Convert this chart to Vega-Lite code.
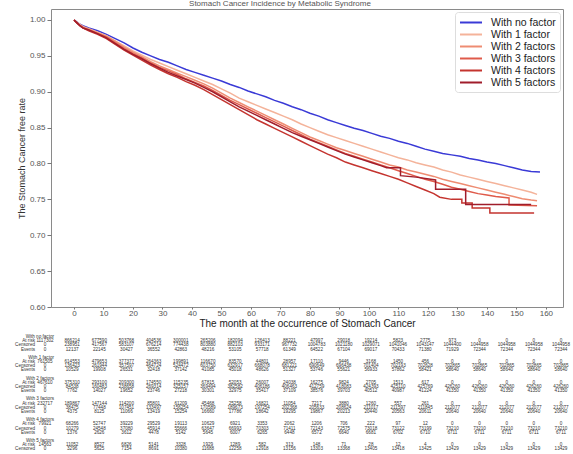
{
  "$schema": "https://vega.github.io/schema/vega-lite/v6.json",
  "padding": {"left": 15, "top": -1, "right": 5, "bottom": 0},
  "background": "white",
  "title": {"text": "Stomach Cancer Incidence by Metabolic Syndrome", "fontSize": 8, "fontWeight": "normal", "color": "#555", "anchor": "middle", "frame": "group", "offset": 1, "dx": -27},
  "config": {"view": {"stroke": null}, "font": "Liberation Sans"},
  "bounds": "flush",
  "spacing": 26,
  "datasets": {
    "km": [
      {"factor":"With no factor","month":0,"rate":1.000},{"factor":"With no factor","month":1,"rate":0.997},{"factor":"With no factor","month":2,"rate":0.994},{"factor":"With no factor","month":3,"rate":0.992},{"factor":"With no factor","month":5,"rate":0.989},{"factor":"With no factor","month":8,"rate":0.985},{"factor":"With no factor","month":11,"rate":0.980},{"factor":"With no factor","month":14,"rate":0.974},{"factor":"With no factor","month":17,"rate":0.968},{"factor":"With no factor","month":20,"rate":0.961},{"factor":"With no factor","month":23,"rate":0.955},{"factor":"With no factor","month":26,"rate":0.950},{"factor":"With no factor","month":29,"rate":0.945},{"factor":"With no factor","month":32,"rate":0.941},{"factor":"With no factor","month":35,"rate":0.936},{"factor":"With no factor","month":38,"rate":0.931},{"factor":"With no factor","month":41,"rate":0.927},{"factor":"With no factor","month":44,"rate":0.923},{"factor":"With no factor","month":47,"rate":0.919},{"factor":"With no factor","month":50,"rate":0.915},{"factor":"With no factor","month":53,"rate":0.910},{"factor":"With no factor","month":56,"rate":0.906},{"factor":"With no factor","month":59,"rate":0.901},{"factor":"With no factor","month":62,"rate":0.897},{"factor":"With no factor","month":65,"rate":0.893},{"factor":"With no factor","month":68,"rate":0.888},{"factor":"With no factor","month":71,"rate":0.884},{"factor":"With no factor","month":74,"rate":0.879},{"factor":"With no factor","month":77,"rate":0.875},{"factor":"With no factor","month":80,"rate":0.870},{"factor":"With no factor","month":83,"rate":0.866},{"factor":"With no factor","month":86,"rate":0.861},{"factor":"With no factor","month":89,"rate":0.857},{"factor":"With no factor","month":92,"rate":0.853},{"factor":"With no factor","month":95,"rate":0.849},{"factor":"With no factor","month":98,"rate":0.846},{"factor":"With no factor","month":101,"rate":0.842},{"factor":"With no factor","month":104,"rate":0.838},{"factor":"With no factor","month":107,"rate":0.835},{"factor":"With no factor","month":110,"rate":0.831},{"factor":"With no factor","month":113,"rate":0.828},{"factor":"With no factor","month":116,"rate":0.824},{"factor":"With no factor","month":119,"rate":0.820},{"factor":"With no factor","month":122,"rate":0.817},{"factor":"With no factor","month":125,"rate":0.814},{"factor":"With no factor","month":128,"rate":0.812},{"factor":"With no factor","month":131,"rate":0.810},{"factor":"With no factor","month":134,"rate":0.807},{"factor":"With no factor","month":137,"rate":0.805},{"factor":"With no factor","month":140,"rate":0.802},{"factor":"With no factor","month":143,"rate":0.800},{"factor":"With no factor","month":146,"rate":0.797},{"factor":"With no factor","month":149,"rate":0.794},{"factor":"With no factor","month":152,"rate":0.791},{"factor":"With no factor","month":155,"rate":0.789},{"factor":"With no factor","month":158,"rate":0.788},

      {"factor":"With 1 factor","month":0,"rate":1.000},{"factor":"With 1 factor","month":1,"rate":0.997},{"factor":"With 1 factor","month":2,"rate":0.994},{"factor":"With 1 factor","month":3,"rate":0.991},{"factor":"With 1 factor","month":5,"rate":0.988},{"factor":"With 1 factor","month":8,"rate":0.983},{"factor":"With 1 factor","month":11,"rate":0.978},{"factor":"With 1 factor","month":14,"rate":0.971},{"factor":"With 1 factor","month":17,"rate":0.964},{"factor":"With 1 factor","month":20,"rate":0.957},{"factor":"With 1 factor","month":23,"rate":0.951},{"factor":"With 1 factor","month":26,"rate":0.945},{"factor":"With 1 factor","month":29,"rate":0.940},{"factor":"With 1 factor","month":32,"rate":0.935},{"factor":"With 1 factor","month":35,"rate":0.930},{"factor":"With 1 factor","month":38,"rate":0.925},{"factor":"With 1 factor","month":41,"rate":0.920},{"factor":"With 1 factor","month":44,"rate":0.915},{"factor":"With 1 factor","month":47,"rate":0.910},{"factor":"With 1 factor","month":50,"rate":0.904},{"factor":"With 1 factor","month":53,"rate":0.898},{"factor":"With 1 factor","month":56,"rate":0.891},{"factor":"With 1 factor","month":59,"rate":0.886},{"factor":"With 1 factor","month":62,"rate":0.881},{"factor":"With 1 factor","month":65,"rate":0.876},{"factor":"With 1 factor","month":68,"rate":0.871},{"factor":"With 1 factor","month":71,"rate":0.866},{"factor":"With 1 factor","month":74,"rate":0.861},{"factor":"With 1 factor","month":77,"rate":0.855},{"factor":"With 1 factor","month":80,"rate":0.850},{"factor":"With 1 factor","month":83,"rate":0.845},{"factor":"With 1 factor","month":86,"rate":0.840},{"factor":"With 1 factor","month":89,"rate":0.836},{"factor":"With 1 factor","month":92,"rate":0.832},{"factor":"With 1 factor","month":95,"rate":0.828},{"factor":"With 1 factor","month":98,"rate":0.824},{"factor":"With 1 factor","month":101,"rate":0.820},{"factor":"With 1 factor","month":104,"rate":0.816},{"factor":"With 1 factor","month":107,"rate":0.812},{"factor":"With 1 factor","month":110,"rate":0.808},{"factor":"With 1 factor","month":113,"rate":0.805},{"factor":"With 1 factor","month":116,"rate":0.801},{"factor":"With 1 factor","month":119,"rate":0.798},{"factor":"With 1 factor","month":122,"rate":0.795},{"factor":"With 1 factor","month":125,"rate":0.791},{"factor":"With 1 factor","month":128,"rate":0.788},{"factor":"With 1 factor","month":131,"rate":0.784},{"factor":"With 1 factor","month":134,"rate":0.781},{"factor":"With 1 factor","month":137,"rate":0.778},{"factor":"With 1 factor","month":140,"rate":0.775},{"factor":"With 1 factor","month":143,"rate":0.772},{"factor":"With 1 factor","month":146,"rate":0.769},{"factor":"With 1 factor","month":149,"rate":0.766},{"factor":"With 1 factor","month":152,"rate":0.763},{"factor":"With 1 factor","month":155,"rate":0.760},{"factor":"With 1 factor","month":157,"rate":0.757},

      {"factor":"With 2 factors","month":0,"rate":1.000},{"factor":"With 2 factors","month":1,"rate":0.996},{"factor":"With 2 factors","month":2,"rate":0.993},{"factor":"With 2 factors","month":3,"rate":0.990},{"factor":"With 2 factors","month":5,"rate":0.987},{"factor":"With 2 factors","month":8,"rate":0.982},{"factor":"With 2 factors","month":11,"rate":0.977},{"factor":"With 2 factors","month":14,"rate":0.970},{"factor":"With 2 factors","month":17,"rate":0.962},{"factor":"With 2 factors","month":20,"rate":0.955},{"factor":"With 2 factors","month":23,"rate":0.949},{"factor":"With 2 factors","month":26,"rate":0.942},{"factor":"With 2 factors","month":29,"rate":0.936},{"factor":"With 2 factors","month":32,"rate":0.931},{"factor":"With 2 factors","month":35,"rate":0.926},{"factor":"With 2 factors","month":38,"rate":0.921},{"factor":"With 2 factors","month":41,"rate":0.916},{"factor":"With 2 factors","month":44,"rate":0.911},{"factor":"With 2 factors","month":47,"rate":0.905},{"factor":"With 2 factors","month":50,"rate":0.898},{"factor":"With 2 factors","month":53,"rate":0.891},{"factor":"With 2 factors","month":56,"rate":0.885},{"factor":"With 2 factors","month":59,"rate":0.879},{"factor":"With 2 factors","month":62,"rate":0.873},{"factor":"With 2 factors","month":65,"rate":0.867},{"factor":"With 2 factors","month":68,"rate":0.861},{"factor":"With 2 factors","month":71,"rate":0.855},{"factor":"With 2 factors","month":74,"rate":0.849},{"factor":"With 2 factors","month":77,"rate":0.843},{"factor":"With 2 factors","month":80,"rate":0.837},{"factor":"With 2 factors","month":83,"rate":0.832},{"factor":"With 2 factors","month":86,"rate":0.827},{"factor":"With 2 factors","month":89,"rate":0.822},{"factor":"With 2 factors","month":92,"rate":0.818},{"factor":"With 2 factors","month":95,"rate":0.814},{"factor":"With 2 factors","month":98,"rate":0.810},{"factor":"With 2 factors","month":101,"rate":0.806},{"factor":"With 2 factors","month":104,"rate":0.802},{"factor":"With 2 factors","month":107,"rate":0.798},{"factor":"With 2 factors","month":110,"rate":0.795},{"factor":"With 2 factors","month":113,"rate":0.791},{"factor":"With 2 factors","month":116,"rate":0.788},{"factor":"With 2 factors","month":119,"rate":0.785},{"factor":"With 2 factors","month":122,"rate":0.782},{"factor":"With 2 factors","month":125,"rate":0.778},{"factor":"With 2 factors","month":128,"rate":0.775},{"factor":"With 2 factors","month":131,"rate":0.772},{"factor":"With 2 factors","month":134,"rate":0.769},{"factor":"With 2 factors","month":137,"rate":0.766},{"factor":"With 2 factors","month":140,"rate":0.763},{"factor":"With 2 factors","month":143,"rate":0.760},{"factor":"With 2 factors","month":146,"rate":0.757},{"factor":"With 2 factors","month":149,"rate":0.754},{"factor":"With 2 factors","month":152,"rate":0.751},{"factor":"With 2 factors","month":155,"rate":0.749},{"factor":"With 2 factors","month":157,"rate":0.748},

      {"factor":"With 3 factors","month":0,"rate":1.000},{"factor":"With 3 factors","month":1,"rate":0.996},{"factor":"With 3 factors","month":2,"rate":0.992},{"factor":"With 3 factors","month":3,"rate":0.989},{"factor":"With 3 factors","month":5,"rate":0.986},{"factor":"With 3 factors","month":8,"rate":0.981},{"factor":"With 3 factors","month":11,"rate":0.976},{"factor":"With 3 factors","month":14,"rate":0.968},{"factor":"With 3 factors","month":17,"rate":0.960},{"factor":"With 3 factors","month":20,"rate":0.953},{"factor":"With 3 factors","month":23,"rate":0.947},{"factor":"With 3 factors","month":26,"rate":0.940},{"factor":"With 3 factors","month":29,"rate":0.934},{"factor":"With 3 factors","month":32,"rate":0.929},{"factor":"With 3 factors","month":35,"rate":0.924},{"factor":"With 3 factors","month":38,"rate":0.918},{"factor":"With 3 factors","month":41,"rate":0.913},{"factor":"With 3 factors","month":44,"rate":0.908},{"factor":"With 3 factors","month":47,"rate":0.902},{"factor":"With 3 factors","month":50,"rate":0.895},{"factor":"With 3 factors","month":53,"rate":0.888},{"factor":"With 3 factors","month":56,"rate":0.882},{"factor":"With 3 factors","month":59,"rate":0.876},{"factor":"With 3 factors","month":62,"rate":0.870},{"factor":"With 3 factors","month":65,"rate":0.864},{"factor":"With 3 factors","month":68,"rate":0.858},{"factor":"With 3 factors","month":71,"rate":0.852},{"factor":"With 3 factors","month":74,"rate":0.846},{"factor":"With 3 factors","month":77,"rate":0.840},{"factor":"With 3 factors","month":80,"rate":0.834},{"factor":"With 3 factors","month":83,"rate":0.829},{"factor":"With 3 factors","month":86,"rate":0.824},{"factor":"With 3 factors","month":89,"rate":0.819},{"factor":"With 3 factors","month":92,"rate":0.814},{"factor":"With 3 factors","month":95,"rate":0.810},{"factor":"With 3 factors","month":98,"rate":0.806},{"factor":"With 3 factors","month":101,"rate":0.802},{"factor":"With 3 factors","month":104,"rate":0.798},{"factor":"With 3 factors","month":107,"rate":0.794},{"factor":"With 3 factors","month":110,"rate":0.790},{"factor":"With 3 factors","month":113,"rate":0.786},{"factor":"With 3 factors","month":116,"rate":0.782},{"factor":"With 3 factors","month":119,"rate":0.778},{"factor":"With 3 factors","month":122,"rate":0.775},{"factor":"With 3 factors","month":125,"rate":0.771},{"factor":"With 3 factors","month":128,"rate":0.767},{"factor":"With 3 factors","month":131,"rate":0.764},{"factor":"With 3 factors","month":134,"rate":0.761},{"factor":"With 3 factors","month":137,"rate":0.758},{"factor":"With 3 factors","month":140,"rate":0.756},{"factor":"With 3 factors","month":143,"rate":0.754},{"factor":"With 3 factors","month":147.5,"rate":0.752},{"factor":"With 3 factors","month":147.5,"rate":0.742},{"factor":"With 3 factors","month":157,"rate":0.741},

      {"factor":"With 4 factors","month":0,"rate":1.000},{"factor":"With 4 factors","month":1,"rate":0.996},{"factor":"With 4 factors","month":2,"rate":0.992},{"factor":"With 4 factors","month":3,"rate":0.989},{"factor":"With 4 factors","month":5,"rate":0.985},{"factor":"With 4 factors","month":8,"rate":0.980},{"factor":"With 4 factors","month":11,"rate":0.974},{"factor":"With 4 factors","month":14,"rate":0.966},{"factor":"With 4 factors","month":17,"rate":0.958},{"factor":"With 4 factors","month":20,"rate":0.951},{"factor":"With 4 factors","month":23,"rate":0.944},{"factor":"With 4 factors","month":26,"rate":0.937},{"factor":"With 4 factors","month":29,"rate":0.931},{"factor":"With 4 factors","month":32,"rate":0.925},{"factor":"With 4 factors","month":35,"rate":0.920},{"factor":"With 4 factors","month":38,"rate":0.914},{"factor":"With 4 factors","month":41,"rate":0.909},{"factor":"With 4 factors","month":44,"rate":0.903},{"factor":"With 4 factors","month":47,"rate":0.896},{"factor":"With 4 factors","month":50,"rate":0.889},{"factor":"With 4 factors","month":53,"rate":0.882},{"factor":"With 4 factors","month":56,"rate":0.875},{"factor":"With 4 factors","month":59,"rate":0.868},{"factor":"With 4 factors","month":62,"rate":0.861},{"factor":"With 4 factors","month":65,"rate":0.855},{"factor":"With 4 factors","month":68,"rate":0.849},{"factor":"With 4 factors","month":71,"rate":0.843},{"factor":"With 4 factors","month":74,"rate":0.837},{"factor":"With 4 factors","month":77,"rate":0.831},{"factor":"With 4 factors","month":80,"rate":0.825},{"factor":"With 4 factors","month":83,"rate":0.819},{"factor":"With 4 factors","month":86,"rate":0.813},{"factor":"With 4 factors","month":89,"rate":0.808},{"factor":"With 4 factors","month":92,"rate":0.802},{"factor":"With 4 factors","month":95,"rate":0.798},{"factor":"With 4 factors","month":98,"rate":0.794},{"factor":"With 4 factors","month":101,"rate":0.790},{"factor":"With 4 factors","month":104,"rate":0.786},{"factor":"With 4 factors","month":107,"rate":0.782},{"factor":"With 4 factors","month":110,"rate":0.778},{"factor":"With 4 factors","month":113,"rate":0.773},{"factor":"With 4 factors","month":116,"rate":0.768},{"factor":"With 4 factors","month":119,"rate":0.763},{"factor":"With 4 factors","month":122,"rate":0.758},{"factor":"With 4 factors","month":124,"rate":0.753},{"factor":"With 4 factors","month":128,"rate":0.750},{"factor":"With 4 factors","month":131.5,"rate":0.750},{"factor":"With 4 factors","month":131.5,"rate":0.745},{"factor":"With 4 factors","month":135,"rate":0.745},{"factor":"With 4 factors","month":135,"rate":0.738},{"factor":"With 4 factors","month":141,"rate":0.738},{"factor":"With 4 factors","month":141,"rate":0.731},{"factor":"With 4 factors","month":156,"rate":0.731},

      {"factor":"With 5 factors","month":0,"rate":1.000},{"factor":"With 5 factors","month":1,"rate":0.996},{"factor":"With 5 factors","month":2,"rate":0.992},{"factor":"With 5 factors","month":3,"rate":0.989},{"factor":"With 5 factors","month":5,"rate":0.986},{"factor":"With 5 factors","month":8,"rate":0.981},{"factor":"With 5 factors","month":11,"rate":0.975},{"factor":"With 5 factors","month":14,"rate":0.967},{"factor":"With 5 factors","month":17,"rate":0.959},{"factor":"With 5 factors","month":20,"rate":0.952},{"factor":"With 5 factors","month":23,"rate":0.946},{"factor":"With 5 factors","month":26,"rate":0.939},{"factor":"With 5 factors","month":29,"rate":0.933},{"factor":"With 5 factors","month":32,"rate":0.927},{"factor":"With 5 factors","month":35,"rate":0.922},{"factor":"With 5 factors","month":38,"rate":0.917},{"factor":"With 5 factors","month":41,"rate":0.912},{"factor":"With 5 factors","month":44,"rate":0.906},{"factor":"With 5 factors","month":47,"rate":0.900},{"factor":"With 5 factors","month":50,"rate":0.893},{"factor":"With 5 factors","month":53,"rate":0.886},{"factor":"With 5 factors","month":56,"rate":0.879},{"factor":"With 5 factors","month":59,"rate":0.873},{"factor":"With 5 factors","month":62,"rate":0.867},{"factor":"With 5 factors","month":65,"rate":0.861},{"factor":"With 5 factors","month":68,"rate":0.855},{"factor":"With 5 factors","month":71,"rate":0.849},{"factor":"With 5 factors","month":74,"rate":0.843},{"factor":"With 5 factors","month":77,"rate":0.838},{"factor":"With 5 factors","month":80,"rate":0.833},{"factor":"With 5 factors","month":83,"rate":0.828},{"factor":"With 5 factors","month":86,"rate":0.823},{"factor":"With 5 factors","month":89,"rate":0.818},{"factor":"With 5 factors","month":92,"rate":0.813},{"factor":"With 5 factors","month":95,"rate":0.809},{"factor":"With 5 factors","month":98,"rate":0.805},{"factor":"With 5 factors","month":101,"rate":0.801},{"factor":"With 5 factors","month":104,"rate":0.797},{"factor":"With 5 factors","month":106,"rate":0.794},{"factor":"With 5 factors","month":110.7,"rate":0.794},{"factor":"With 5 factors","month":110.7,"rate":0.783},{"factor":"With 5 factors","month":116,"rate":0.781},{"factor":"With 5 factors","month":122.6,"rate":0.777},{"factor":"With 5 factors","month":122.6,"rate":0.764},{"factor":"With 5 factors","month":132.8,"rate":0.764},{"factor":"With 5 factors","month":132.8,"rate":0.743},{"factor":"With 5 factors","month":155,"rate":0.743}
    ],
    "hdr": [
      {"g":"With no factor","line":"1h"},{"g":"With 1 factor","line":"2h"},{"g":"With 2 factors","line":"3h"},
      {"g":"With 3 factors","line":"4h"},{"g":"With 4 factors","line":"5h"},{"g":"With 5 factors","line":"6h"}
    ],
    "risk": [
      {"g":"With no factor","r":"At risk","line":"1a","c01":"1117302","c02":"866214","c03":"677590","c04":"503768","c05":"404536","c06":"300001","c07":"265206","c08":"182094","c09":"126413","c10":"88221","c11":"47997","c12":"29018","c13":"19214","c14":"5823","c15":"2775","c16":"973","c17":"0","c18":"0","c19":"0","c20":"0"},
      {"g":"With no factor","r":"Censored","line":"1c","c01":"0","c02":"238951","c03":"417567","c04":"583107","c05":"676214","c06":"774438","c07":"803880","c08":"882103","c09":"933171","c10":"967732","c11":"1004783","c12":"1021180","c13":"1029071","c14":"1041046","c15":"1043147","c16":"1044400","c17":"1044958","c18":"1044958","c19":"1044958","c20":"1044958"},
      {"g":"With no factor","r":"Events","line":"1e","c01":"0","c02":"12137","c03":"22145","c04":"30427","c05":"36552","c06":"42863","c07":"48216","c08":"53105","c09":"57718","c10":"61349","c11":"64522","c12":"67104","c13":"69017","c14":"70433","c15":"71380","c16":"71929","c17":"72344","c18":"72344","c19":"72344","c20":"72344"},
      {"g":"With 1 factor","r":"At risk","line":"2a","c01":"761505","c02":"614553","c03":"479653","c04":"377377","c05":"264363","c06":"199891","c07":"116670","c08":"83570","c09":"44801","c10":"28957","c11":"17110","c12":"9446","c13":"3168","c14":"1450","c15":"456","c16":"0","c17":"0","c18":"0","c19":"0","c20":"0"},
      {"g":"With 1 factor","r":"Censored","line":"2c","c01":"0","c02":"136423","c03":"261944","c04":"357597","c05":"464724","c06":"524472","c07":"603750","c08":"632917","c09":"668078","c10":"681221","c11":"690649","c12":"696438","c13":"701404","c14":"702193","c15":"702628","c16":"702865","c17":"702865","c18":"702865","c19":"702865","c20":"702865"},
      {"g":"With 1 factor","r":"Events","line":"2e","c01":"0","c02":"10529","c03":"19908","c04":"26531","c05":"32418","c06":"37142","c07":"41085","c08":"45018","c09":"48626","c10":"51327","c11":"53746","c12":"55621","c13":"56933","c14":"57862","c15":"58421","c16":"58640","c17":"58640","c18":"58640","c19":"58640","c20":"58640"},
      {"g":"With 2 factors","r":"At risk","line":"3a","c01":"467610","c02":"375310","c03":"293100","c04":"209300","c05":"174550","c06":"115235","c07":"67815","c08":"52053","c09":"26007","c10":"24038","c11":"16275","c12":"9824","c13":"2705","c14":"1513","c15":"617","c16":"0","c17":"0","c18":"0","c19":"0","c20":"0"},
      {"g":"With 2 factors","r":"Censored","line":"3c","c01":"0","c02":"84538","c03":"160483","c04":"238658","c05":"269314","c06":"325157","c07":"369494","c08":"382582","c09":"406186","c10":"406463","c11":"412759","c12":"418083","c13":"424393","c14":"425110","c15":"425769","c16":"426260","c17":"426260","c18":"426260","c19":"426260","c20":"426260"},
      {"g":"With 2 factors","r":"Events","line":"3e","c01":"0","c02":"7762","c03":"14027","c04":"19652","c05":"23746","c06":"27218","c07":"30301","c08":"32975","c09":"35417","c10":"37109","c11":"38576","c12":"39703","c13":"40512","c14":"40987","c15":"41224","c16":"41350","c17":"41350","c18":"41350","c19":"41350","c20":"41350"},
      {"g":"With 3 factors","r":"At risk","line":"4a","c01":"232717","c02":"189867","c03":"147144","c04":"114200","c05":"85801","c06":"61209","c07":"45468","c08":"25258","c09":"16821","c10":"11054","c11":"7217","c12":"3880","c13":"1260","c14":"557","c15":"261","c16":"0","c17":"0","c18":"0","c19":"0","c20":"0"},
      {"g":"With 3 factors","r":"Censored","line":"4c","c01":"0","c02":"38475","c03":"77448","c04":"107451","c05":"133497","c06":"156254","c07":"170589","c08":"189673","c09":"197254","c10":"202368","c11":"205633","c12":"208624","c13":"211017","c14":"211597","c15":"211845","c16":"212077","c17":"212077","c18":"212077","c19":"212077","c20":"212077"},
      {"g":"With 3 factors","r":"Events","line":"4e","c01":"0","c02":"4375","c03":"8125","c04":"11066","c05":"13419","c06":"15254","c07":"16660","c08":"17786","c09":"18642","c10":"19295","c11":"19867","c12":"20213","c13":"20440","c14":"20563","c15":"20611","c16":"20640","c17":"20640","c18":"20640","c19":"20640","c20":"20640"},
      {"g":"With 4 factors","r":"At risk","line":"5a","c01":"79921","c02":"68266","c03":"52747","c04":"39229","c05":"29529","c06":"19113","c07":"10629","c08":"6921","c09":"3353","c10":"2062","c11":"1206","c12":"706","c13":"222","c14":"97","c15":"12","c16":"0","c17":"0","c18":"0","c19":"0","c20":"0"},
      {"g":"With 4 factors","r":"Censored","line":"5c","c01":"0","c02":"10279","c03":"24548","c04":"37080","c05":"45914","c06":"55666","c07":"63647","c08":"66993","c09":"70303","c10":"71411","c11":"72143","c12":"72575","c13":"73018","c14":"73122","c15":"73199","c16":"73210","c17":"73210","c18":"73210","c19":"73210","c20":"73210"},
      {"g":"With 4 factors","r":"Events","line":"5e","c01":"0","c02":"1376","c03":"2626","c04":"3612","c05":"4478","c06":"5142","c07":"5645","c08":"6007","c09":"6265","c10":"6448","c11":"6572","c12":"6640","c13":"6681","c14":"6702","c15":"6710","c16":"6711","c17":"6711","c18":"6711","c19":"6711","c20":"6711"},
      {"g":"With 5 factors","r":"At risk","line":"6a","c01":"14563","c02":"11052","c03":"8527","c04":"6826","c05":"5141","c06":"3328","c07":"1929","c08":"1289","c09":"582","c10":"313","c11":"148","c12":"71","c13":"28","c14":"12","c15":"4","c16":"0","c17":"0","c18":"0","c19":"0","c20":"0"},
      {"g":"With 5 factors","r":"Censored","line":"6c","c01":"0","c02":"3296","c03":"5625","c04":"7154","c05":"8691","c06":"10380","c07":"11688","c08":"12258","c09":"12918","c10":"13156","c11":"13303","c12":"13368","c13":"13405","c14":"13418","c15":"13425","c16":"13429","c17":"13429","c18":"13429","c19":"13429","c20":"13429"},
      {"g":"With 5 factors","r":"Events","line":"6e","c01":"0","c02":"215","c03":"411","c04":"583","c05":"731","c06":"855","c07":"946","c08":"1016","c09":"1063","c10":"1094","c11":"1112","c12":"1124","c13":"1130","c14":"1133","c15":"1134","c16":"1134","c17":"1134","c18":"1134","c19":"1134","c20":"1134"}
    ]
  },
  "vconcat": [
    {
      "width": 512,
      "height": 298,
      "view": {"stroke": "#8a8a8a", "strokeWidth": 1},
      "data": {"name": "km"},
      "mark": {"type": "line", "strokeWidth": 1.5, "interpolate": "linear"},
      "encoding": {
        "x": {"field": "month", "type": "quantitative",
          "scale": {"domain": [-7.8, 165.8], "nice": false, "zero": false},
          "axis": {"values": [0,10,20,30,40,50,60,70,80,90,100,110,120,130,140,150,160], "format": "d", "grid": false, "domain": false,
            "labelFontSize": 8, "labelColor": "#555", "tickColor": "#777", "tickSize": 2, "labelPadding": 0,
            "title": "The month at the occurrence of Stomach Cancer", "titleFontSize": 10, "titleFontWeight": "normal", "titleColor": "#222", "titlePadding": 1}},
        "y": {"field": "rate", "type": "quantitative",
          "scale": {"domain": [0.6, 1.0153], "nice": false, "zero": false},
          "axis": {"values": [0.6,0.65,0.7,0.75,0.8,0.85,0.9,0.95,1.0], "format": ".2f", "grid": false, "domain": false,
            "labelFontSize": 8, "labelColor": "#555", "tickColor": "#777", "tickSize": 4, "labelPadding": 2,
            "title": "The Stomach Cancer free rate", "titleFontSize": 9, "titleFontWeight": "normal", "titleColor": "#333", "titlePadding": 3}},
        "color": {"field": "factor", "type": "nominal",
          "scale": {"domain": ["With no factor","With 1 factor","With 2 factors","With 3 factors","With 4 factors","With 5 factors"],
                    "range": ["#3a3ad6","#f4b39a","#ee8c72","#df5a4a","#c4342f","#a01d2b"]},
          "legend": {"orient": "top-right", "title": null, "symbolType": "M-1,0H3", "symbolStrokeWidth": 2, "symbolSize": 121,
            "labelFontSize": 10.5, "labelColor": "#222", "rowPadding": -2, "padding": 4, "strokeColor": "#ddd", "fillColor": "white",
            "cornerRadius": 3, "offset": 3, "labelOffset": 19}},
        "order": [{"field": "month", "type": "quantitative"}, {"field": "rate", "type": "quantitative", "sort": "descending"}]
      }
    },
    {
      "width": 512,
      "height": 121,
      "view": {"stroke": null},
      "encoding": {
        "y": {"field": "line", "type": "nominal",
              "scale": {"type": "point", "domain": ["1h","1a","1c","1e","1x","2h","2a","2c","2e","2x","3h","3a","3c","3e","3x","4h","4a","4c","4e","4x","5h","5a","5c","5e","5x","6h","6a","6c","6e","6x"], "range": [2, 126.7]},
              "axis": null}
      },
      "layer": [
        {
          "data": {"name": "risk"},
          "transform": [{"filter": "datum.line != '6e'"}, {"fold": ["c01","c02","c03","c04","c05","c06","c07","c08","c09","c10","c11","c12","c13","c14","c15","c16","c17","c18","c19","c20"], "as": ["col", "val"]}],
          "mark": {"type": "text", "fontSize": 4.6, "color": "#333", "align": "center", "baseline": "middle"},
          "encoding": {
            "x": {"field": "col", "type": "ordinal", "scale": {"type": "point", "range": [-6, 510], "padding": 0}, "axis": null},
            "text": {"field": "val"}
          }
        },
        {
          "data": {"name": "risk"},
          "transform": [{"filter": "datum.line != '6e'"}],
          "mark": {"type": "text", "fontSize": 4.6, "color": "#333", "align": "right", "baseline": "middle", "dx": -10},
          "encoding": {
            "x": {"datum": "c01", "type": "ordinal"},
            "text": {"field": "r"}
          }
        },
        {
          "data": {"name": "hdr"},
          "mark": {"type": "text", "fontSize": 4.6, "color": "#333", "align": "right", "baseline": "middle", "dx": 9},
          "encoding": {
            "x": {"datum": "c01", "type": "ordinal"},
            "text": {"field": "g"}
          }
        }
      ]
    }
  ]
}
